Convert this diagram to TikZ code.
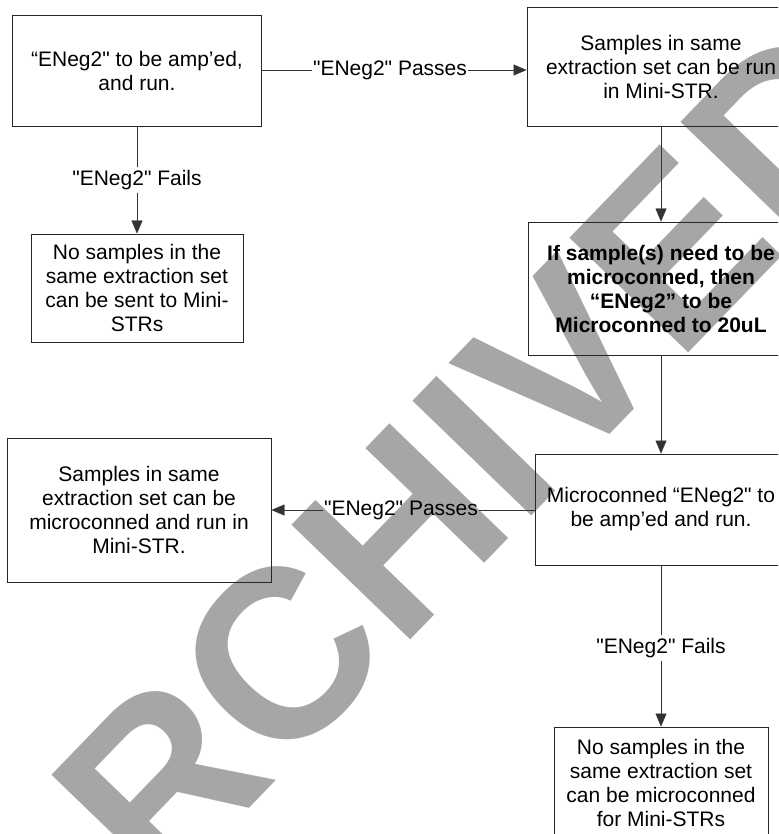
\documentclass[tikz,border=0pt]{standalone}
\usepackage{fontspec}
\newfontfamily\arialFont{Liberation Sans}
\usetikzlibrary{arrows.meta}
\usetikzlibrary{positioning}
\colorlet{penColor}{black!85}
\colorlet{lineColor}{black!80}
\colorlet{stampColor}{black!35}
\tikzset{>={Triangle[length=13pt,width=11pt]},
  box/.style={draw=penColor,line width=0.9pt,align=center,inner sep=2pt,
    font=\arialFont\fontsize{21}{24}\selectfont},
  boldBox/.style={box,font=\arialFont\fontsize{21}{24}\selectfont\bfseries},
  edgeLabel/.style={inner xsep=1pt,inner ysep=3pt,
    font=\arialFont\fontsize{21}{24}\selectfont}}

\begin{document}
\begin{tikzpicture}[x=1pt,y=-1pt,line cap=round]

  \clip (0,0) rectangle (778,834);

  % stamp behind everything
  \node [anchor=base,rotate=46,text=stampColor,
    font=\arialFont\fontsize{240}{240}\selectfont\bfseries] (stamp) at (474,575) {ARCHIVED};

  % left column
  \node [box,minimum width=249,minimum height=111] (ampRun) at (137,70.5)
    {“ENeg2" to be amp’ed,\\and run.};
  \node [box,minimum width=212,minimum height=108] (noSendA) at (137,288)
    {No samples in the\\same extraction set\\can be sent to Mini-\\STRs};
  \node [box,minimum width=264,minimum height=144] (microRun) at (139,510)
    {Samples in same\\extraction set can be\\microconned and run in\\Mini-STR.};

  % right column
  \node [box,minimum width=268,minimum height=119] (runMini) at (661,66.5)
    {Samples in same\\extraction set can be run\\in Mini-STR.};
  \node [boldBox,minimum width=266,minimum height=133] (microIf) at (661,288.5)
    {If sample(s) need to be\\microconned, then\\“ENeg2” to be\\Microconned to 20uL};
  \node [box,minimum width=252,minimum height=111] (microAmp) at (661,509.5)
    {Microconned “ENeg2" to\\be amp’ed and run.};
  \node [box,minimum width=214,minimum height=112] (noSendB) at (661,783)
    {No samples in the\\same extraction set\\can be microconned\\for Mini-STRs};

  % labels on the lines
  \node [edgeLabel] (passA) at (390,70) {"ENeg2" Passes};
  \node [edgeLabel] (failA) at (137,180) {"ENeg2" Fails};
  \node [edgeLabel] (passB) at (401,510) {"ENeg2" Passes};
  \node [edgeLabel] (failB) at (661,648) {"ENeg2" Fails};

  \draw [lineColor] (ampRun.east |- passA) -- (passA);
  \draw [lineColor,->] (passA) -- (passA -| runMini.west);
  \draw [lineColor] (ampRun) -- (failA);
  \draw [lineColor,->] (failA) -- (noSendA);

  \draw [lineColor,->] (runMini) -- (microIf);
  \draw [lineColor,->] (microIf) -- (microAmp);

  \draw [lineColor] (microAmp.west |- passB) -- (passB);
  \draw [lineColor,->] (passB) -- (passB -| microRun.east);
  \draw [lineColor] (microAmp) -- (failB);
  \draw [lineColor,->] (failB) -- (noSendB);

\end{tikzpicture}
\end{document}
